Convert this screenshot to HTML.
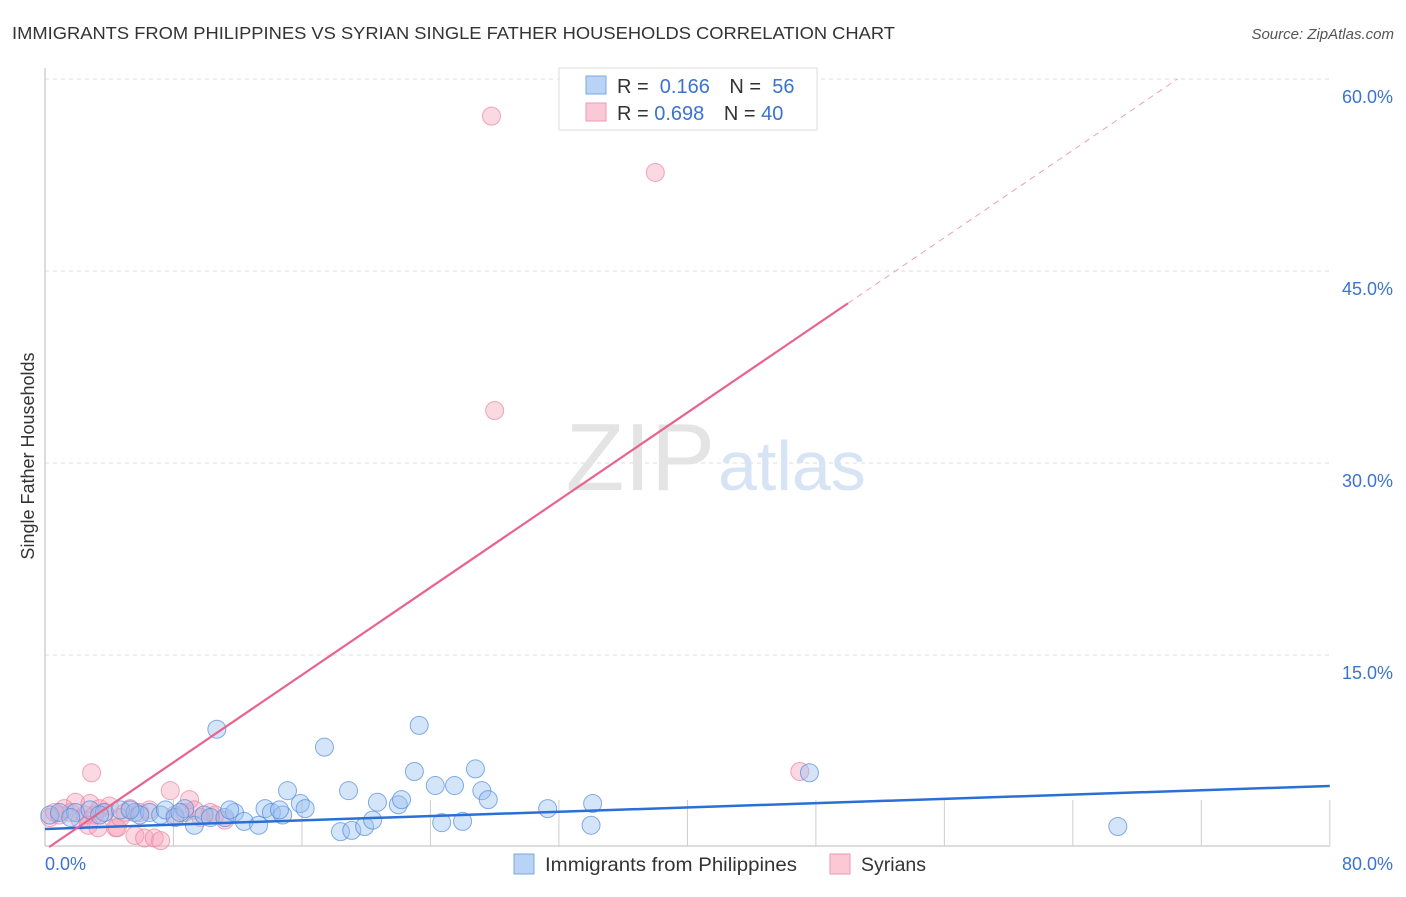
<!DOCTYPE html>
<html><head><meta charset="utf-8"><style>
body{margin:0;background:#fff;font-family:"Liberation Sans",sans-serif}
svg text{font-family:"Liberation Sans",sans-serif}
</style></head><body>
<svg id="c" width="1406" height="892">
<text x="12" y="39" font-size="17.5" fill="#333" textLength="883" lengthAdjust="spacingAndGlyphs">IMMIGRANTS FROM PHILIPPINES VS SYRIAN SINGLE FATHER HOUSEHOLDS CORRELATION CHART</text>
<text x="1394" y="39" font-size="15" fill="#555" font-style="italic" text-anchor="end">Source: ZipAtlas.com</text>
<text x="34" y="456" font-size="18" fill="#333" text-anchor="middle" transform="rotate(-90 34 456)">Single Father Households</text>
<g id="grid"></g>
<text x="715" y="490" font-size="96" fill="#e4e4e4" text-anchor="end" font-family="Liberation Serif">ZIP</text>
<text x="718" y="490" font-size="70" fill="#d6e4f5">atlas</text>
<g id="pts"></g>
<g id="lines"></g>
<g>
<rect x="559" y="68" width="258" height="62" fill="#fff" stroke="#ddd"/>
<rect x="586" y="76" width="20" height="18" fill="#b8d3f5" stroke="#7aa8e0"/>
<rect x="586" y="103" width="20" height="18" fill="#fbc9d6" stroke="#ee9ab2"/>
<text x="617" y="93" font-size="20" fill="#333">R = <tspan fill="#3a73d0">&#160;0.166</tspan>   <tspan dx="14">N = </tspan><tspan fill="#3a73d0">&#160;56</tspan></text>
<text x="617" y="120" font-size="20" fill="#333">R = <tspan fill="#3a73d0">0.698</tspan>   <tspan dx="14">N = </tspan><tspan fill="#3a73d0">40</tspan></text>
</g>
<text x="45" y="870" font-size="18" fill="#3a73d0">0.0%</text>
<text x="1393" y="870" font-size="18" fill="#3a73d0" text-anchor="end">80.0%</text>
<g>
<rect x="514" y="854" width="20" height="20" fill="#b8d3f5" stroke="#7aa8e0"/>
<text x="545" y="871" font-size="19.5" fill="#333" textLength="252" lengthAdjust="spacingAndGlyphs">Immigrants from Philippines</text>
<rect x="830" y="854" width="20" height="20" fill="#fbc9d6" stroke="#ee9ab2"/>
<text x="861" y="871" font-size="19.5" fill="#333" textLength="65" lengthAdjust="spacingAndGlyphs">Syrians</text>
</g>
</svg>
<script>
const yTicks=[15,30,45,60];
const xTicks=[8,16,24,32,40,48,56,64,72,80];
const blueX=[0.3,0.9,1.9,2.8,3.7,4.7,5.6,6.5,7.2,7.5,8.1,8.7,9.3,9.9,10.3,10.7,11.2,11.8,12.4,13.3,13.7,14.1,14.8,15.1,15.9,16.2,17.4,18.4,18.9,19.1,19.9,20.4,20.7,22.0,22.2,23.0,23.3,24.3,24.7,25.5,26.0,26.8,27.2,27.6,31.3,34.0,34.1,47.6,66.8,5.9,3.4,1.6,5.3,8.4,11.5,14.6];
const blueY=[2.5,2.7,2.7,2.9,2.7,2.9,2.7,2.7,2.5,2.9,2.3,3.0,1.7,2.5,2.3,9.2,2.3,2.7,2.0,1.7,3.0,2.7,2.5,4.4,3.4,3.0,7.8,1.2,4.4,1.3,1.6,2.1,3.5,3.3,3.7,5.9,9.5,4.8,1.9,4.8,2.0,6.1,4.4,3.7,3.0,1.7,3.4,5.8,1.6,2.5,2.5,2.3,2.9,2.7,2.9,2.9];
const pinkX=[0.3,0.9,1.6,1.9,2.2,2.5,2.8,2.9,3.1,3.4,3.7,4.0,4.4,4.5,5.0,5.3,5.6,5.9,6.2,6.8,7.2,7.8,8.7,9.0,9.7,10.3,11.2,27.8,28.0,38.0,47.0,1.2,0.6,2.7,3.3,4.7,6.5,8.1,9.3,10.6];
const pinkY=[2.3,2.5,2.7,3.5,2.1,2.5,3.4,5.8,2.5,3.0,2.7,3.2,1.5,1.5,2.7,3.0,0.9,2.7,0.7,0.7,0.5,4.4,2.7,3.7,2.3,2.7,2.1,57.1,34.1,52.7,5.9,3.0,2.7,1.7,1.5,2.3,2.9,2.5,2.9,2.5];
const blueTrend=[1.41,4.77];
const pinkTrend=[-0.22,0.854];
const NS='http://www.w3.org/2000/svg';
const X=v=>45+v*16.06, Y=v=>847-v*12.8;
function mk(t,a,p){const e=document.createElementNS(NS,t);for(const k in a)e.setAttribute(k,a[k]);p.appendChild(e);return e;}
const g=document.getElementById('grid');
yTicks.forEach(t=>{
 const l=mk('line',{x1:45,x2:1330,y1:Y(t),y2:Y(t),stroke:'#ddd','stroke-dasharray':'4,4'},g);
 
 
 const tx=mk('text',{x:1393,y:Y(t)+24,'font-size':18,fill:'#3a73d0','text-anchor':'end'},g);
 tx.textContent=t.toFixed(1)+'%';
 
 
});
mk('line',{x1:45,x2:45,y1:68,y2:846,stroke:'#bbb'},g);
mk('line',{x1:45,x2:1330,y1:846,y2:846,stroke:'#bbb'},g);
xTicks.forEach(t=>{
 const l=mk('line',{x1:X(t),x2:X(t),y1:846,y2:800,stroke:'#ccc'},g);
 
 
});
const p=document.getElementById('pts');
pinkX.forEach((v,i)=>{
 const c=mk('circle',{cx:X(v),cy:Y(pinkY[i]),r:9,fill:'rgba(246,160,185,0.4)',stroke:'rgba(236,130,160,0.7)'},p);
 
 
});
blueX.forEach((v,i)=>{
 const c=mk('circle',{cx:X(v),cy:Y(blueY[i]),r:9,fill:'rgba(150,190,240,0.4)',stroke:'rgba(80,140,220,0.7)'},p);
 
 
});
const L=document.getElementById('lines');
const bl=mk('line',{x1:X(0),y1:Y(blueTrend[0]),x2:X(80),y2:Y(blueTrend[1]),stroke:'#2a6fd6','stroke-width':2.5},L);


const px0=(0-pinkTrend[0])/pinkTrend[1];
const pl=mk('line',{x1:X(px0),y1:Y(0),x2:X(50),y2:Y(pinkTrend[0]+pinkTrend[1]*50),stroke:'#e8648f','stroke-width':2.2},L);


const pxe=(60-pinkTrend[0])/pinkTrend[1];
const pd=mk('line',{x1:X(50),y1:Y(pinkTrend[0]+pinkTrend[1]*50),x2:X(pxe),y2:Y(60),stroke:'#eaa0b8','stroke-width':1,'stroke-dasharray':'6,5'},L);


</script>
</body></html>
